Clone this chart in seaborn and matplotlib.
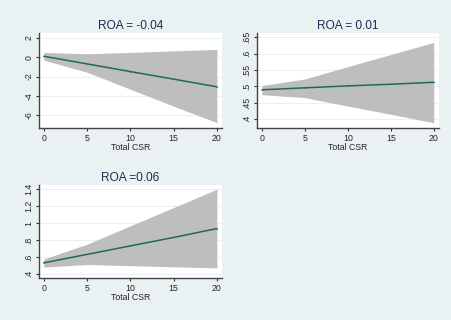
import numpy as np
import pandas as pd
import seaborn as sns
import matplotlib.pyplot as plt

# values
csr = [0, 5, 10, 15, 20]

titles = ["ROA = -0.04", "ROA = 0.01", "ROA =0.06"]

fit_neg = [0.1, -0.69, -1.48, -2.26, -3.05]
upper_neg = [0.5, 0.35, 0.5, 0.65, 0.8]
lower_neg = [-0.3, -1.55, -3.3, -5.05, -6.75]

fit_mid = [0.489, 0.495, 0.501, 0.506, 0.512]
upper_mid = [0.502, 0.522, 0.56, 0.597, 0.634]
lower_mid = [0.474, 0.465, 0.439, 0.414, 0.388]

fit_pos = [0.53, 0.63, 0.73, 0.83, 0.935]
upper_pos = [0.575, 0.75, 0.967, 1.183, 1.4]
lower_pos = [0.48, 0.51, 0.497, 0.483, 0.47]

yticks = [[-6, -4, -2, 0, 2],
          [0.4, 0.45, 0.5, 0.55, 0.6, 0.65],
          [0.4, 0.6, 0.8, 1.0, 1.2, 1.4]]
ytick_labels = [["-6", "-4", "-2", "0", "2"],
                [".4", ".45", ".5", ".55", ".6", ".65"],
                [".4", ".6", ".8", "1", "1.2", "1.4"]]
ylims = [(-7.3, 2.5), (0.372, 0.663), (0.35, 1.45)]

sns.set_style("white")
plt.rcParams['font.family'] = ['Liberation Sans', 'DejaVu Sans']

bg = "#eaf1f3"
fig = plt.figure(figsize=(4.52, 3.2), dpi=100, facecolor=bg)
boxes = [[0.0863, 0.60, 0.405, 0.297],
         [0.569, 0.60, 0.402, 0.297],
         [0.0863, 0.131, 0.405, 0.291]]

series = [(fit_neg, upper_neg, lower_neg),
          (fit_mid, upper_mid, lower_mid),
          (fit_pos, upper_pos, lower_pos)]

for i, (fit, up, lo) in enumerate(series):
    ax = fig.add_axes(boxes[i])
    ax.set_facecolor("white")
    df = pd.DataFrame({"Total CSR": csr, "fit": fit, "up": up, "lo": lo})
    ax.fill_between(df["Total CSR"], df["lo"], df["up"], color="#bebebe", lw=0, zorder=2)
    sns.lineplot(data=df, x="Total CSR", y="fit", ax=ax, color="#1d6b5c", lw=1.1, zorder=3,
                 marker="o", markersize=0.8, markeredgewidth=0)
    ax.set_xlim(-0.55, 20.6)
    ax.set_ylim(*ylims[i])
    ax.set_xticks([0, 5, 10, 15, 20])
    ax.set_yticks(yticks[i])
    ax.set_yticklabels(ytick_labels[i], rotation=90, va="center")
    for yt in yticks[i]:
        ax.axhline(yt, color="#eaf0f2", lw=0.7, zorder=1)
    ax.tick_params(axis="both", labelsize=6.3, length=2.5, width=0.8, color="#333333",
                   pad=1.5, direction="out", left=True, bottom=True)
    ax.set_xlabel("Total CSR", fontsize=6.3, labelpad=0)
    ax.set_ylabel("")
    ax.set_title(titles[i], fontsize=8.6, color="#1e2d50", pad=3)
    for s in ["top", "right"]:
        ax.spines[s].set_visible(False)
    for s in ["left", "bottom"]:
        ax.spines[s].set_color("#444444")
        ax.spines[s].set_linewidth(1.0)

fig.savefig("out.png", dpi=100, facecolor=bg)
